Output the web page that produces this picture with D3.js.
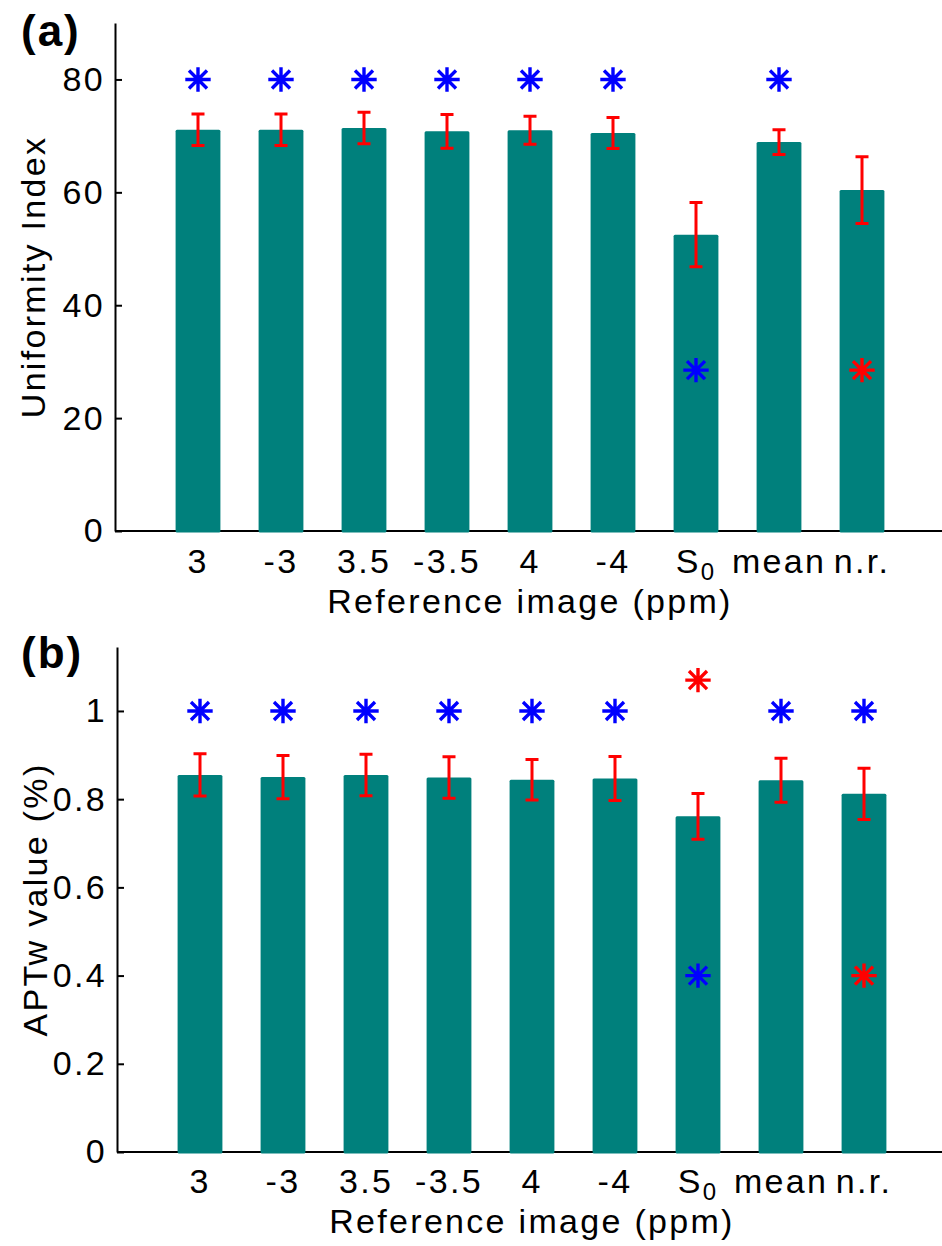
<!DOCTYPE html>
<html>
<head>
<meta charset="utf-8">
<script src="https://cdn.jsdelivr.net/npm/d3@7"></script>
<style>
  body { margin: 0; background: #fff; }
  text { font-family: "Liberation Sans", Arial, sans-serif; fill: #000; letter-spacing: 2.3px; }
</style>
</head>
<body>
<script>
// categories on the x axis (reference image, ppm)
const categories = ['3', '-3', '3.5', '-3.5', '4', '-4', 'S0', 'mean', 'n.r.'];

// (a) uniformity index
const uniformityMeans = [71.1, 71.1, 71.4, 70.8, 71.0, 70.5, 52.5, 68.9, 60.4];
const uniformityErrors = [2.8, 2.8, 2.8, 3.0, 2.5, 2.75, 5.7, 2.2, 5.9];
const uniformityTicks = [0, 20, 40, 60, 80];
const uniformityStars = [
  { category: '3', value: 80, kind: 'blue' },
  { category: '-3', value: 80, kind: 'blue' },
  { category: '3.5', value: 80, kind: 'blue' },
  { category: '-3.5', value: 80, kind: 'blue' },
  { category: '4', value: 80, kind: 'blue' },
  { category: '-4', value: 80, kind: 'blue' },
  { category: 'mean', value: 80, kind: 'blue' },
  { category: 'S0', value: 28.5, kind: 'blue' },
  { category: 'n.r.', value: 28.5, kind: 'red' },
];

// (b) APTw value
const aptwMeans = [0.855, 0.850, 0.855, 0.849, 0.844, 0.847, 0.761, 0.843, 0.812];
const aptwErrors = [0.048, 0.049, 0.047, 0.047, 0.046, 0.050, 0.052, 0.050, 0.058];
const aptwTicks = [0, 0.2, 0.4, 0.6, 0.8, 1];
const aptwStars = [
  { category: '3', value: 1, kind: 'blue' },
  { category: '-3', value: 1, kind: 'blue' },
  { category: '3.5', value: 1, kind: 'blue' },
  { category: '-3.5', value: 1, kind: 'blue' },
  { category: '4', value: 1, kind: 'blue' },
  { category: '-4', value: 1, kind: 'blue' },
  { category: 'S0', value: 1.07, kind: 'red' },
  { category: 'mean', value: 1, kind: 'blue' },
  { category: 'n.r.', value: 1, kind: 'blue' },
  { category: 'S0', value: 0.4, kind: 'blue' },
  { category: 'n.r.', value: 0.4, kind: 'red' },
];

const width = 942;
const height = 1246;
const barColor = '#00807c';
const errColor = '#ff0000';
const starColor = d3.scaleOrdinal().domain(['blue', 'red']).range(['#0000ff', '#ff0000']);
const fontSize = 34;

const svg = d3.select('body').append('svg')
  .attr('width', width)
  .attr('height', height);

// 8-spoke asterisk like the matlab '*' marker
function starPath(cx, cy) {
  const rh = 11, rv = 10.5, rd = 7.8;
  return `M${cx - rh},${cy}H${cx + rh}`
    + `M${cx},${cy - rv}V${cy + rv}`
    + `M${cx - rd},${cy - rd}L${cx + rd},${cy + rd}`
    + `M${cx - rd},${cy + rd}L${cx + rd},${cy - rd}`;
}

function drawPanel(opts) {
  const x = d3.scaleBand()
    .domain(categories)
    .range([opts.left, opts.left + 830])
    .paddingInner(0.46)
    .paddingOuter(0.73);

  const y = d3.scaleLinear()
    .domain([0, opts.yMax])
    .range([opts.bottom, opts.top]);

  const g = svg.append('g');

  // x axis line (bars sit over it)
  g.append('line')
    .attr('x1', opts.left)
    .attr('x2', width)
    .attr('y1', y(0))
    .attr('y2', y(0))
    .attr('stroke', '#000')
    .attr('stroke-width', 2);

  const rows = opts.means.map((m, i) => ({ category: categories[i], mean: m, err: opts.errors[i] }));

  g.append('g')
    .selectAll('rect')
    .data(rows)
    .enter().append('rect')
      .attr('x', d => x(d.category))
      .attr('width', x.bandwidth())
      .attr('y', d => y(d.mean))
      .attr('height', d => y(0) - y(d.mean) + 1.5)
      .attr('rx', 1.5)
      .attr('fill', barColor);

  // error bars
  const cap = 6.5;
  g.append('g')
    .attr('stroke', errColor)
    .attr('stroke-width', 3)
    .selectAll('path')
    .data(rows)
    .enter().append('path')
      .attr('fill', 'none')
      .attr('d', d => {
        const cx = x(d.category) + x.bandwidth() / 2;
        const y1 = y(d.mean + d.err);
        const y0 = y(d.mean - d.err);
        return `M${cx - cap},${y1}H${cx + cap}M${cx},${y1}V${y0}M${cx - cap},${y0}H${cx + cap}`;
      });

  // significance stars
  g.append('g')
    .selectAll('path')
    .data(opts.stars)
    .enter().append('path')
      .attr('d', d => starPath(x(d.category) + x.bandwidth() / 2, y(d.value)))
      .attr('stroke', d => starColor(d.kind))
      .attr('stroke-width', 3.4)
      .attr('stroke-linecap', 'square')
      .attr('fill', 'none');

  // y axis, inward ticks
  const yAxis = d3.axisLeft(y)
    .tickValues(opts.ticks)
    .tickSizeInner(-7)
    .tickSizeOuter(0)
    .tickPadding(10)
    .tickFormat(d3.format('~g'));

  const yG = g.append('g')
    .attr('transform', `translate(${opts.left},0)`)
    .call(yAxis);
  yG.select('.domain').attr('stroke-width', 2);
  yG.selectAll('.tick line').attr('stroke-width', 2);
  yG.selectAll('text')
    .style('font-size', `${fontSize}px`)
    .attr('fill', '#000');

  // category labels
  const xAxis = d3.axisBottom(x)
    .tickSize(0)
    .tickPadding(opts.labelPad);

  const xG = g.append('g')
    .attr('transform', `translate(0,${y(0)})`)
    .call(xAxis);
  xG.select('.domain').remove();
  xG.selectAll('text')
    .style('font-size', `${fontSize}px`)
    .attr('fill', '#000')
    .each(function (d) {
      if (d === 'S0') {
        const t = d3.select(this).text(null);
        t.append('tspan').text('S');
        t.append('tspan')
          .attr('dy', 7)
          .style('font-size', '24px')
          .text('0');
      }
    });

  // axis titles
  g.append('text')
    .attr('x', opts.left + 415)
    .attr('y', opts.bottom + opts.titlePad)
    .attr('text-anchor', 'middle')
    .style('font-size', `${fontSize}px`)
    .text('Reference image (ppm)');

  g.append('text')
    .attr('transform', `translate(${opts.yLabelX},${(opts.top + opts.bottom) / 2}) rotate(-90)`)
    .attr('text-anchor', 'middle')
    .style('font-size', `${fontSize}px`)
    .text(opts.yLabel);

  // panel letter
  g.append('text')
    .attr('x', 21)
    .attr('y', opts.letterY)
    .style('font-size', '44px')
    .style('font-weight', 'bold')
    .style('letter-spacing', '2px')
    .text(opts.letter);
}

drawPanel({
  means: uniformityMeans,
  errors: uniformityErrors,
  stars: uniformityStars,
  ticks: uniformityTicks,
  yMax: 90,
  left: 115,
  top: 23,
  bottom: 531,
  labelPad: 18,
  titlePad: 82,
  yLabel: 'Uniformity Index',
  yLabelX: 45,
  letter: '(a)',
  letterY: 46,
});

drawPanel({
  means: aptwMeans,
  errors: aptwErrors,
  stars: aptwStars,
  ticks: aptwTicks,
  yMax: 1.145,
  left: 117,
  top: 647,
  bottom: 1152,
  labelPad: 17,
  titlePad: 81,
  yLabel: 'APTw value (%)',
  yLabelX: 47,
  letter: '(b)',
  letterY: 668,
});
</script>
</body>
</html>
